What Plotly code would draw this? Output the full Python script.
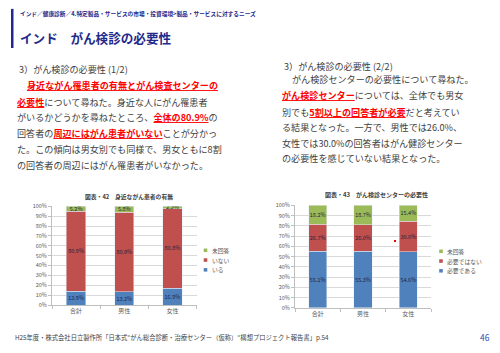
import plotly.graph_objects as go

W, H = 500, 353
FONT = "Noto Sans CJK JP"

# ---------------- data ----------------
categories = ["合計", "男性", "女性"]

c42_series = ["いる", "いない", "未回答"]
c42_iru = [13.9, 13.2, 16.9]
c42_inai = [80.9, 80.9, 80.8]
c42_mikaitou = [5.2, 5.8, 2.3]

c43_series = ["必要である", "必要ではない", "未回答"]
c43_hitsuyou = [55.1, 55.3, 54.6]
c43_fuyou = [26.7, 26.0, 30.0]
c43_mikaitou = [18.2, 18.7, 15.4]

yticks = [0, 10, 20, 30, 40, 50, 60, 70, 80, 90, 100]
ytick_labels = [f"{v}%" for v in yticks]

COLORS = ["#4F81BD", "#C0504D", "#9BBB59"]
NAVY = "#1F2A8C"
TXT = "#404040"
RED = "#FF0000"


def px(x):
    return x / W


def py(y):
    return 1 - y / H


fig = go.Figure()

for vals, name, col in zip([c42_iru, c42_inai, c42_mikaitou], c42_series, COLORS):
    fig.add_trace(go.Bar(
        x=categories, y=vals, name=name, marker_color=col, width=0.4,
        text=[f"{v:.1f}%" for v in vals], textposition="inside", textangle=0,
        insidetextanchor="middle", constraintext="none",
        textfont=dict(size=5.5, color="#1F1F3F", family=FONT),
        xaxis="x", yaxis="y", showlegend=False))

for vals, name, col in zip([c43_hitsuyou, c43_fuyou, c43_mikaitou], c43_series, COLORS):
    fig.add_trace(go.Bar(
        x=categories, y=vals, name=name, marker_color=col, width=0.4,
        text=[f"{v:.1f}%" for v in vals], textposition="inside", textangle=0,
        insidetextanchor="middle", constraintext="none",
        textfont=dict(size=5.5, color="#1F1F3F", family=FONT),
        xaxis="x2", yaxis="y2", showlegend=False))

xcommon = dict(type="category", showline=True, linecolor="#BFBFBF", linewidth=1,
               ticks="outside", tickson="boundaries", ticklen=3, tickcolor="#BFBFBF",
               tickfont=dict(size=6, color="#595959", family=FONT), showgrid=False,
               fixedrange=True)
ycommon = dict(range=[0, 100], tickvals=yticks, ticktext=ytick_labels,
               showline=True, linecolor="#BFBFBF", linewidth=1,
               ticks="outside", ticklen=3, tickcolor="#BFBFBF",
               showgrid=True, gridcolor="#D9D9D9", gridwidth=1,
               tickfont=dict(size=5.5, color="#595959", family=FONT), zeroline=False,
               fixedrange=True)

fig.update_layout(
    width=W, height=H, margin=dict(l=0, r=0, t=0, b=0),
    paper_bgcolor="white", plot_bgcolor="white",
    barmode="stack", bargap=0.6,
    uniformtext=dict(mode="show", minsize=5.5),
    font=dict(family=FONT, color=TXT),
    xaxis=dict(domain=[px(52), px(196.5)], anchor="y", **xcommon),
    yaxis=dict(domain=[py(308), py(207)], anchor="x", **ycommon),
    xaxis2=dict(domain=[px(295), px(431)], anchor="y2", **xcommon),
    yaxis2=dict(domain=[py(311), py(206)], anchor="x2", **ycommon),
)

shapes = []
ann = []


def text(x, y, s, size=9.1, color=TXT, xanchor="left"):
    ann.append(dict(x=px(x), y=py(y), xref="paper", yref="paper", text=s,
                    showarrow=False, xanchor=xanchor, yanchor="middle",
                    font=dict(size=size, color=color, family=FONT)))


def red(s):
    return f'<span style="color:{RED}"><b><u>{s}</u></b></span>'


# header
shapes.append(dict(type="rect", xref="paper", yref="paper", x0=px(11), x1=px(13.5),
                   y0=py(45), y1=py(5), fillcolor=NAVY, line=dict(width=0)))
text(18, 10, "<b>インド／健康診断／4.特定製品・サービスの市場・投資環境>製品・サービスに対するニーズ</b>",
     size=5.7, color=NAVY)
text(18, 34, "<b>インド　がん検診の必要性</b>", size=12.6, color=NAVY)

# left text block
text(17, 66, "3）がん検診の必要性 (1/2)")
text(25, 83, red("身近ながん罹患者の有無とがん検査センターの"))
text(15, 100, red("必要性") + "について尋ねた。身近な人にがん罹患者")
text(15, 116, "がいるかどうかを尋ねたところ、" + red("全体の80.9%") + "の")
text(15, 132, "回答者の" + red("周辺にはがん患者がいない") + "ことが分かっ")
text(15, 148, "た。この傾向は男女別でも同様で、男女ともに8割")
text(15, 165, "の回答者の周辺にはがん罹患者がいなかった。")

# right text block
text(282, 63, "3）がん検診の必要性 (2/2)")
text(290, 77, "がん検診センターの必要性について尋ねた。")
text(280, 93, red("がん検診センター") + "については、全体でも男女")
text(280, 110, "別でも" + red("5割以上の回答者が必要") + "だと考えてい")
text(280, 126, "る結果となった。一方で、男性では26.0%、")
text(280, 142, "女性では30.0%の回答者はがん健診センター")
text(280, 158, "の必要性を感じていない結果となった。")

# chart titles
text(129, 197, "<b>図表・42　身近ながん患者の有無</b>", size=5.8, color="#404040", xanchor="center")
text(376, 195, "<b>図表・43　がん検診センターの必要性</b>", size=6.0, color="#404040", xanchor="center")

# manual legends (top item = last series)
def legend(x, ys, names):
    for yy, name, col in zip(ys, names, COLORS):
        shapes.append(dict(type="rect", xref="paper", yref="paper",
                           x0=px(x - 1.8), x1=px(x + 1.8), y0=py(yy + 1.8), y1=py(yy - 1.8),
                           fillcolor=col, line=dict(width=0)))
        text(x + 4, yy, name, size=5.8, color="#595959")


legend(205.5, [272, 262, 252], c42_series)
legend(441, [273, 263, 253], c43_series)

# small red mark in right chart
shapes.append(dict(type="rect", xref="paper", yref="paper", x0=px(394), x1=px(396),
                   y0=py(243.5), y1=py(241.5), fillcolor="#FF0000", line=dict(width=0)))

# footer
text(13, 341, "H25年度・株式会社日立製作所「日本式\"がん総合診断・治療センター（仮称）\"構想プロジェクト報告書」p.54",
     size=6.3, color="#404040")
text(492, 341, "46", size=8.5, color="#2E4FB5", xanchor="right")

fig.update_layout(shapes=shapes, annotations=ann)
fig.write_html("out.html")
